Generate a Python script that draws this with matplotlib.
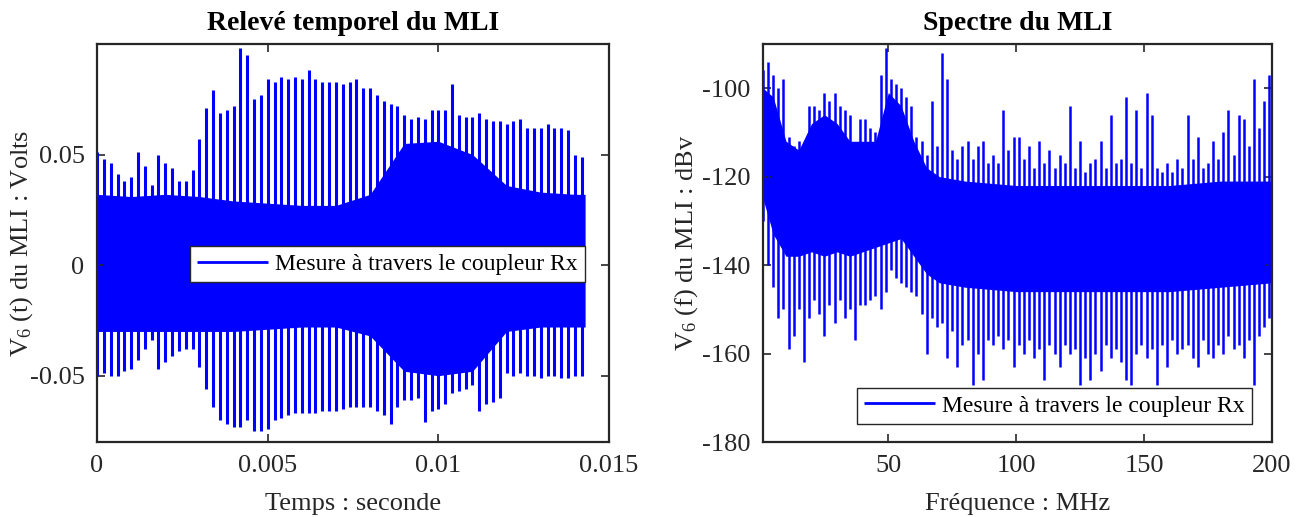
import numpy as np
import matplotlib
matplotlib.use("Agg")
from matplotlib import pyplot as plt

# --- relevé temporel (V) : pics haut / bas, pas de 0.2 ms ---
t_step = 0.0002
upper_t = [0.051, 0.048, 0.046, 0.041, 0.038, 0.040, 0.051, 0.045, 0.036, 0.050,
           0.046, 0.044, 0.038, 0.038, 0.043, 0.057, 0.071, 0.079, 0.069, 0.070,
           0.072, 0.098, 0.095, 0.075, 0.077, 0.084, 0.083, 0.085, 0.084, 0.085,
           0.084, 0.088, 0.084, 0.083, 0.083, 0.083, 0.082, 0.083, 0.084, 0.080,
           0.080, 0.077, 0.074, 0.073, 0.072, 0.068, 0.066, 0.067, 0.066, 0.070,
           0.070, 0.070, 0.082, 0.068, 0.067, 0.067, 0.069, 0.066, 0.065, 0.065,
           0.064, 0.065, 0.066, 0.062, 0.062, 0.062, 0.064, 0.062, 0.062, 0.061,
           0.050, 0.049]
lower_t = [-0.050, -0.049, -0.050, -0.050, -0.048, -0.047, -0.043, -0.038, -0.034, -0.047,
           -0.044, -0.041, -0.039, -0.038, -0.038, -0.046, -0.056, -0.064, -0.070, -0.072,
           -0.073, -0.073, -0.070, -0.075, -0.075, -0.074, -0.070, -0.069, -0.068, -0.067,
           -0.067, -0.067, -0.067, -0.066, -0.066, -0.066, -0.065, -0.064, -0.064, -0.064,
           -0.064, -0.066, -0.068, -0.072, -0.064, -0.061, -0.061, -0.060, -0.071, -0.066,
           -0.065, -0.063, -0.058, -0.057, -0.056, -0.054, -0.066, -0.063, -0.062, -0.060,
           -0.049, -0.050, -0.049, -0.050, -0.050, -0.051, -0.050, -0.050, -0.051, -0.051,
           -0.050, -0.050]

# coeur dense du signal
t_core = [0, 0.001, 0.002, 0.003, 0.004, 0.005, 0.006, 0.007, 0.008, 0.009,
          0.010, 0.011, 0.012, 0.013, 0.014, 0.0143]
core_hi_t = [0.032, 0.031, 0.032, 0.031, 0.029, 0.028, 0.027, 0.027, 0.032, 0.055,
             0.056, 0.050, 0.036, 0.033, 0.032, 0.032]
core_lo_t = [-0.030, -0.030, -0.030, -0.030, -0.030, -0.029, -0.028, -0.028, -0.032, -0.048,
             -0.050, -0.048, -0.030, -0.028, -0.028, -0.028]

# --- spectre (dBV) : pics haut / bas, pas de 2 MHz à partir de 1 MHz ---
f_start = 1
f_step = 2
upper_f = [-96, -94, -97, -100, -98, -111, -113, -112, -113, -104,
           -104, -105, -101, -103, -101, -104, -105, -106, -114, -107,
           -107, -109, -110, -97, -91, -98, -99, -100, -102, -104,
           -111, -112, -115, -103, -113, -92, -98, -114, -116, -113,
           -112, -116, -113, -112, -117, -115, -117, -105, -114, -111,
           -111, -116, -113, -118, -112, -117, -114, -118, -115, -117,
           -104, -118, -112, -119, -117, -116, -112, -118, -106, -117,
           -116, -102, -117, -105, -118, -101, -106, -118, -119, -117,
           -119, -116, -118, -106, -116, -111, -118, -117, -112, -116,
           -110, -105, -115, -106, -107, -113, -98, -109, -103, -97]
lower_f = [-130, -140, -145, -152, -150, -159, -156, -150, -162, -152,
           -148, -151, -156, -149, -153, -148, -152, -150, -157, -149,
           -149, -148, -147, -150, -146, -141, -143, -144, -145, -146,
           -147, -151, -160, -152, -154, -153, -161, -155, -163, -158,
           -157, -167, -160, -166, -157, -158, -156, -159, -157, -163,
           -158, -160, -157, -161, -159, -166, -158, -160, -163, -158,
           -160, -159, -167, -161, -166, -160, -164, -158, -161, -159,
           -162, -166, -167, -160, -158, -161, -159, -167, -158, -163,
           -157, -160, -159, -158, -161, -163, -157, -160, -161, -158,
           -160, -156, -159, -158, -161, -157, -167, -156, -154, -152]

f_core = [1, 5, 10, 15, 20, 25, 30, 35, 40, 45, 50, 55, 60, 65, 70, 80, 100,
          120, 140, 160, 180, 200]
core_hi_f = [-100, -102, -112, -114, -108, -106, -108, -112, -112, -112, -101, -104,
             -112, -118, -120, -121, -122, -122, -122, -122, -121, -121]
core_lo_f = [-125, -133, -138, -138, -137, -138, -137, -138, -137, -136, -135, -134,
             -138, -142, -144, -145, -146, -146, -146, -146, -145, -144]

LABEL = "Mesure à travers le coupleur Rx"
BLUE = "#0000ff"
AX_COLOR = "#262626"


def style_axes(ax):
    for s in ax.spines.values():
        s.set_linewidth(1.6)
        s.set_color(AX_COLOR)
    ax.tick_params(direction="in", top=True, right=True, length=6, width=1.2,
                   colors=AX_COLOR, labelsize=19, pad=9)
    for lab in ax.get_xticklabels() + ax.get_yticklabels():
        lab.set_color(AX_COLOR)


def main():
    plt.rcParams["font.family"] = ["Liberation Serif", "DejaVu Serif"]
    plt.rcParams["mathtext.fontset"] = "custom"
    plt.rcParams["mathtext.rm"] = "Liberation Serif"
    plt.rcParams["mathtext.it"] = "Liberation Serif:italic"
    plt.rcParams["axes.unicode_minus"] = False

    fig = plt.figure(figsize=(13.06, 5.17), dpi=100)
    ax1 = fig.add_axes([0.0743, 0.145, 0.392, 0.770])
    ax2 = fig.add_axes([0.5842, 0.145, 0.3897, 0.770])

    # 第一幅图 : temps
    t = np.arange(len(upper_t)) * t_step
    ax1.fill_between(t_core, core_lo_t, core_hi_t, color=BLUE, lw=0)
    ax1.vlines(t, lower_t, upper_t, color=BLUE, lw=2.2, label=LABEL)
    ax1.set_xlim(0, 0.015)
    ax1.set_ylim(-0.08, 0.1)
    ax1.set_xticks([0, 0.005, 0.01, 0.015])
    ax1.set_xticklabels(["0", "0.005", "0.01", "0.015"])
    ax1.set_yticks([-0.05, 0, 0.05])
    ax1.set_yticklabels(["-0.05", "0", "0.05"])
    ax1.set_xlabel("Temps : seconde", fontsize=19, color=AX_COLOR, labelpad=12)
    ax1.set_ylabel("V$_6$ (t) du MLI : Volts", fontsize=19, color=AX_COLOR)
    ax1.yaxis.set_label_coords(-0.122, 0.5)
    ax1.set_title("Relevé temporel du MLI", fontsize=20, fontweight="bold", pad=10)
    style_axes(ax1)
    leg1 = ax1.legend(loc="upper left", bbox_to_anchor=(0.182, 0.492), borderaxespad=0,
                      fontsize=17, handlelength=3.0, fancybox=False, framealpha=1,
                      edgecolor=AX_COLOR, borderpad=0.3, handletextpad=0.3)
    leg1.legend_handles[0].set_linewidth(2)

    # 第二幅图 : spectre
    f = f_start + np.arange(len(upper_f)) * f_step
    ax2.fill_between(f_core, core_lo_f, core_hi_f, color=BLUE, lw=0)
    ax2.vlines(f, lower_f, upper_f, color=BLUE, lw=1.8, label=LABEL)
    ax2.set_xlim(1, 200)
    ax2.set_ylim(-180, -90)
    ax2.set_xticks([50, 100, 150, 200])
    ax2.set_yticks([-180, -160, -140, -120, -100])
    ax2.set_xlabel("Fréquence : MHz", fontsize=19, color=AX_COLOR, labelpad=12)
    ax2.set_ylabel("V$_6$ (f) du MLI : dBv", fontsize=19, color=AX_COLOR)
    ax2.yaxis.set_label_coords(-0.124, 0.5)
    ax2.set_title("Spectre du MLI", fontsize=20, fontweight="bold", pad=10)
    style_axes(ax2)
    leg2 = ax2.legend(loc="upper left", bbox_to_anchor=(0.185, 0.136), borderaxespad=0,
                      fontsize=17, handlelength=3.0, fancybox=False, framealpha=1,
                      edgecolor=AX_COLOR, borderpad=0.3, handletextpad=0.3)
    leg2.legend_handles[0].set_linewidth(2)

    fig.savefig("out.png", dpi=100)


if __name__ == "__main__":
    main()
